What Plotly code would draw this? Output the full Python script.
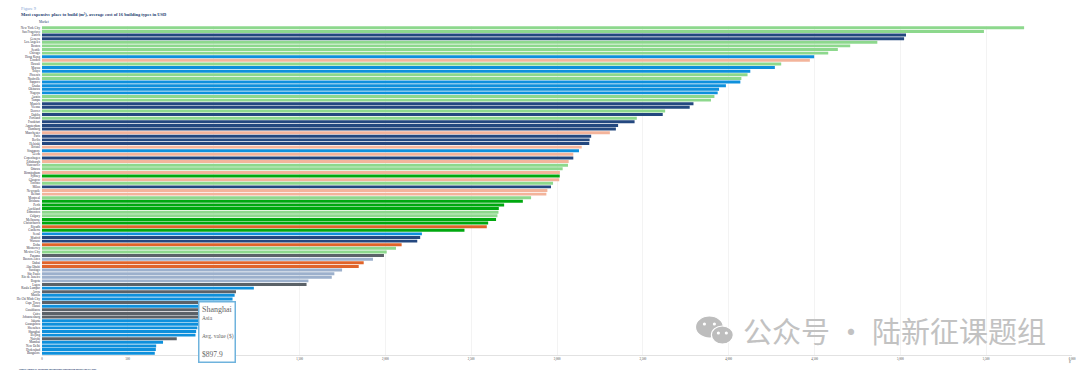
import plotly.graph_objects as go

W, H = 1080, 374
ML, MR, MT, MB = 42, 4, 26, 19

cities = ["New York City","San Francisco","Zurich","Geneva","Los Angeles","Boston","Seattle","Chicago","Hong Kong","London",
"Hawaii","Macau","Tokyo","Phoenix","Nashville","Sapporo","Osaka","Okinawa","Nagoya","Austin",
"Tampa","Munich","Vienna","Denver","Dublin","Portland","Frankfurt","Amsterdam","Hamburg","Manchester",
"Paris","Berlin","Helsinki","Bristol","Singapore","Leeds","Copenhagen","Edinburgh","Vancouver","Ottawa",
"Birmingham","Sydney","Glasgow","Toronto","Milan","Newcastle","Belfast","Montreal","Brisbane","Perth",
"Auckland","Edmonton","Calgary","Melbourne","Christchurch","Riyadh","Canberra","Seoul","Madrid","Warsaw",
"Doha","Monterrey","Mexico City","Panama","Buenos Aires","Dubai","Abu Dhabi","Santiago","São Paulo","Rio de Janeiro",
"Bogota","Lagos","Kuala Lumpur","Accra","Manila","Ho Chi Minh City","Cape Town","Hanoi","Casablanca","Cairo",
"Johannesburg","Jakarta","Guangzhou","Shenzhen","Shanghai","Beijing","Nairobi","Mumbai","New Delhi","Hyderabad","Bangalore"]

values = [5721,5487,5033,5022,4866,4708,4636,4580,4498,4473,
4306,4269,4126,4110,4074,4068,3984,3944,3936,3917,
3897,3795,3773,3630,3616,3465,3452,3356,3343,3308,
3199,3190,3188,3144,3128,3095,3095,3068,3064,3033,
3017,3016,3013,2977,2965,2944,2938,2849,2801,2692,
2661,2659,2653,2645,2599,2591,2461,2213,2203,2186,
2095,2062,2008,1992,1928,1874,1845,1748,1703,1688,
1552,1541,1234,1130,1122,1110,1040,1000,960,950,
930,915,910,905,897.9,894,785,705,665,663,657]

N,E,A,U,O,M,L,F = "North America","Europe","Asia","UK","Oceania","Middle East","Latin America","Africa"
regions = [N,N,E,E,N,N,N,N,A,U,
N,A,A,N,N,A,A,A,A,N,
N,E,E,N,E,N,E,E,E,U,
E,E,E,U,A,U,E,U,N,N,
U,O,U,N,E,U,U,N,O,O,
O,N,N,O,O,M,O,A,E,E,
M,N,N,F,L,M,M,L,L,L,
L,F,A,F,A,A,F,A,F,F,
F,A,A,A,A,A,F,A,A,A,A]

region_colors = {N:"#8dd88d",E:"#24487f",A:"#0e90dc",U:"#f3b49b",O:"#00a80f",M:"#e0642a",L:"#9cb0cc",F:"#5b6268"}
x_ticks = [0,500,1000,1500,2000,2500,3000,3500,4000,4500,5000,5500,6000]
# the 1,000 label sits behind the tooltip in the reference
x_labels = ["0","500","","1,500","2,000","2,500","3,000","3,500","4,000","4,500","5,000","5,500","6,000"]

def px(x): return (x-ML)/(W-ML-MR)
def py(y): return (H-MB-y)/(H-MT-MB)

fig = go.Figure(go.Bar(
    x=values, y=cities, orientation="h",
    marker=dict(color=[region_colors[r] for r in regions], line_width=0),
    hoverinfo="skip",
))

def note(x, y, text, size, color, family="Liberation Serif", anchor="left"):
    fig.add_annotation(xref="paper", yref="paper", x=px(x), y=py(y), text=text, showarrow=False,
                       xanchor=anchor, yanchor="middle", align=anchor,
                       font=dict(size=size, color=color, family=family), borderpad=0)

note(20, 8.5, "Figure 9", 4.5, "#7f9fd4")
note(20, 15, "<b>Most expensive place to build (m²), average cost of 16 building types in USD</b>", 4.5, "#24406f")
note(38, 22, "Market", 3.4, "#24406f")
note(18, 369, "<b>Source: Turner & Townsend International construction market survey 2020</b>", 2.4, "#24406f")
note(1074, 362, "$", 3, "#555555", anchor="center")

# Tooltip for Shanghai, anchored on its value
i = cities.index("Shanghai")
fig.add_annotation(xref="x", yref="paper", x=values[i], y=py(331.5), xshift=1.5, xanchor="left", yanchor="middle",
    text=" ", showarrow=False, width=35, height=59, bgcolor="white",
    bordercolor="#6fb3dd", borderwidth=1.5, borderpad=0, font=dict(size=6))
for text, ypos, size in [(cities[i], 309, 8), (regions[i], 318, 5.5), ("Avg. value ($)", 336, 5.5), (f"${values[i]}", 354, 7.5)]:
    fig.add_annotation(xref="x", yref="paper", x=values[i], y=py(ypos), xshift=5, xanchor="left", yanchor="middle",
                       text=text, showarrow=False, font=dict(family="Liberation Serif", color="#666666", size=size), borderpad=0)

# Watermark
note(745, 330, "公众号 · 陆新征课题组", 29, "#c2c2c2", family="Noto Sans CJK SC")
for cx, cy, rx, ry in [(712, 327, 14, 11), (725, 335, 11, 9)]:
    fig.add_shape(type="circle", xref="paper", yref="paper", x0=px(cx-rx), x1=px(cx+rx),
                  y0=py(cy+ry), y1=py(cy-ry), fillcolor="#bdbdbd", line=dict(color="white", width=1.2))
for cx, cy in [(707, 324), (717, 324), (721, 333), (729, 333)]:
    fig.add_shape(type="circle", xref="paper", yref="paper", x0=px(cx-1.6), x1=px(cx+1.6),
                  y0=py(cy+1.6), y1=py(cy-1.6), fillcolor="white", line_width=0)

fig.update_layout(
    width=W, height=H, margin=dict(l=ML, r=MR, t=MT, b=MB), paper_bgcolor="white", plot_bgcolor="white",
    bargap=0.18, showlegend=False,
    xaxis=dict(range=[0,6000], tickvals=x_ticks, ticktext=x_labels, tickfont=dict(size=3, color="#444444", family="Liberation Serif"),
               gridcolor="#f3f3f3", gridwidth=1, showline=True, linecolor="#e2e2e2", linewidth=1, ticklen=0, zeroline=False),
    yaxis=dict(autorange="reversed", type="category", tickmode="linear", dtick=1,
               tickfont=dict(size=3.2, color="#333344", family="Liberation Serif"), ticklen=0, ticklabelstandoff=1,
               showgrid=False, showline=False, zeroline=False),
)
fig.write_html("out.html", config={"displayModeBar": False},
               post_script="document.body.style.margin='0';document.body.style.overflow='hidden';")
